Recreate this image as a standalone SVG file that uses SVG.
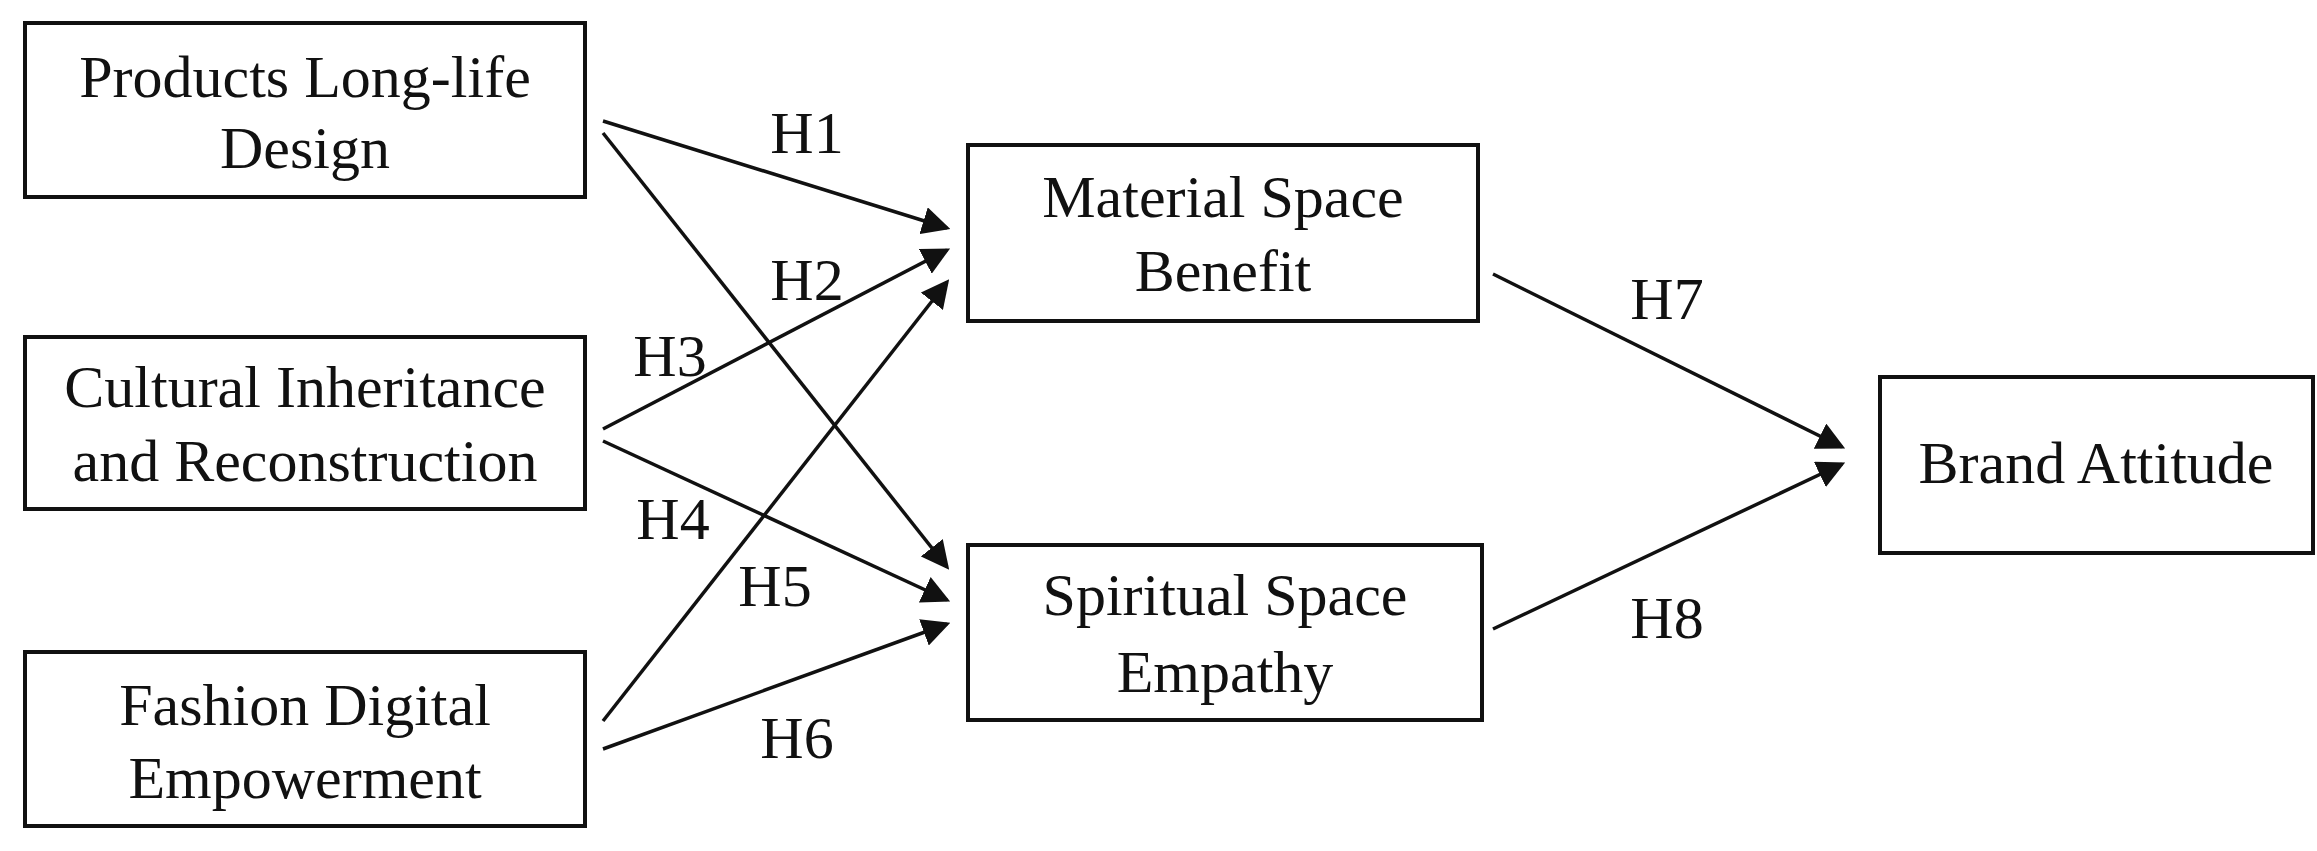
<svg xmlns="http://www.w3.org/2000/svg" width="2317" height="851" viewBox="0 0 2317 851">
<style>
rect{fill:#fff;stroke:#111;stroke-width:4}
text{font-family:"Liberation Serif","Times New Roman",serif;font-size:60px;fill:#111;text-anchor:middle}
line{stroke:#111;stroke-width:3.5;marker-end:url(#a)}
</style>
<defs><marker id="a" markerWidth="8" markerHeight="8" refX="7" refY="4" orient="auto" markerUnits="strokeWidth"><path d="M0,0 L8,4 L0,8 Z" fill="#111"/></marker></defs>
<rect width="2317" height="851" fill="#fff" style="stroke:none"/>
<g id="n1"><rect x="25" y="23" width="560" height="174"/><text x="305" y="97">Products Long-life</text><text x="305" y="168">Design</text></g>
<g id="n2"><rect x="25" y="337" width="560" height="172"/><text x="305" y="407">Cultural Inheritance</text><text x="305" y="481">and Reconstruction</text></g>
<g id="n3"><rect x="25" y="652" width="560" height="174"/><text x="305" y="725">Fashion Digital</text><text x="305" y="798">Empowerment</text></g>
<g id="n4"><rect x="968" y="145" width="510" height="176"/><text x="1223" y="217">Material Space</text><text x="1223" y="291">Benefit</text></g>
<g id="n5"><rect x="968" y="545" width="514" height="175"/><text x="1225" y="615">Spiritual Space</text><text x="1225" y="692">Empathy</text></g>
<g id="n6"><rect x="1880" y="377" width="433" height="176"/><text x="2096" y="483">Brand Attitude</text></g>
<g id="edges">
<line x1="603" y1="121" x2="947" y2="228"/>
<line x1="603" y1="133" x2="947" y2="567"/>
<line x1="603" y1="429" x2="947" y2="250"/>
<line x1="603" y1="441" x2="947" y2="600"/>
<line x1="603" y1="721" x2="947" y2="282"/>
<line x1="603" y1="749" x2="947" y2="624"/>
<line x1="1493" y1="274" x2="1842" y2="447"/>
<line x1="1493" y1="629" x2="1842" y2="464"/>
</g>
<g id="labels">
<text x="807" y="153">H1</text><text x="807" y="300">H2</text><text x="670" y="376">H3</text><text x="673" y="539">H4</text>
<text x="775" y="606">H5</text><text x="797" y="758">H6</text><text x="1667" y="319">H7</text><text x="1667" y="638">H8</text>
</g>
</svg>
